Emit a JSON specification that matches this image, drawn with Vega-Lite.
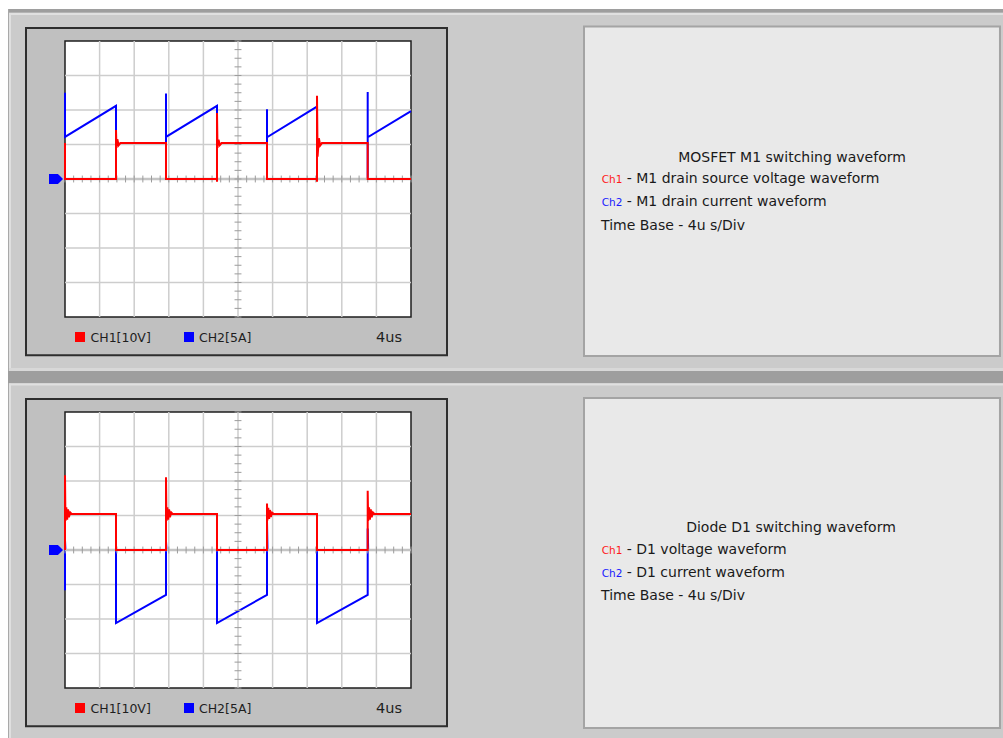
{
  "$schema": "https://vega.github.io/schema/vega-lite/v6.json",
  "description": "Simulated oscilloscope captures of a buck converter: MOSFET M1 and diode D1 switching waveforms (Ch1 voltage, Ch2 current, 4 us/div).",
  "background": "#ffffff",
  "padding": {"left": 7, "top": 9, "right": 0, "bottom": 0},
  "spacing": 0,
  "bounds": "flush",
  "config": {"view": {"stroke": null}, "font": "DejaVu Sans", "text": {"font": "DejaVu Sans"}},
  "datasets": {
    "m1": [
      {"ch": "CH1", "t": 0, "v": 1.04},
      {"ch": "CH1", "t": 0, "v": 0},
      {"ch": "CH1", "t": 5.896, "v": 0},
      {"ch": "CH1", "t": 5.896, "v": 1.42},
      {"ch": "CH1", "t": 5.95, "v": 0.9},
      {"ch": "CH1", "t": 6.05, "v": 1.15},
      {"ch": "CH1", "t": 6.2, "v": 0.98},
      {"ch": "CH1", "t": 6.4, "v": 1.04},
      {"ch": "CH1", "t": 11.676, "v": 1.04},
      {"ch": "CH1", "t": 11.676, "v": 0},
      {"ch": "CH1", "t": 17.572, "v": 0},
      {"ch": "CH1", "t": 17.572, "v": -0.08},
      {"ch": "CH1", "t": 17.572, "v": 1.91},
      {"ch": "CH1", "t": 17.63, "v": 0.9},
      {"ch": "CH1", "t": 17.75, "v": 1.14},
      {"ch": "CH1", "t": 17.9, "v": 0.98},
      {"ch": "CH1", "t": 18.1, "v": 1.04},
      {"ch": "CH1", "t": 23.353, "v": 1.04},
      {"ch": "CH1", "t": 23.353, "v": 0},
      {"ch": "CH1", "t": 29.133, "v": 0},
      {"ch": "CH1", "t": 29.133, "v": -0.08},
      {"ch": "CH1", "t": 29.133, "v": 2.41},
      {"ch": "CH1", "t": 29.2, "v": 0.65},
      {"ch": "CH1", "t": 29.35, "v": 1.18},
      {"ch": "CH1", "t": 29.5, "v": 0.97},
      {"ch": "CH1", "t": 29.7, "v": 1.04},
      {"ch": "CH1", "t": 34.994, "v": 1.04},
      {"ch": "CH1", "t": 34.994, "v": 0},
      {"ch": "CH1", "t": 40, "v": 0},
      {"ch": "CH2", "t": 0, "v": 2.5},
      {"ch": "CH2", "t": 0, "v": 1.22},
      {"ch": "CH2", "t": 5.896, "v": 2.12},
      {"ch": "CH2", "t": 5.896, "v": 0},
      {"ch": "CH2", "t": 11.676, "v": 0},
      {"ch": "CH2", "t": 11.676, "v": 2.48},
      {"ch": "CH2", "t": 11.676, "v": 1.22},
      {"ch": "CH2", "t": 17.572, "v": 2.12},
      {"ch": "CH2", "t": 17.572, "v": 0},
      {"ch": "CH2", "t": 23.353, "v": 0},
      {"ch": "CH2", "t": 23.353, "v": 2.02},
      {"ch": "CH2", "t": 23.353, "v": 1.21},
      {"ch": "CH2", "t": 29.133, "v": 2.1},
      {"ch": "CH2", "t": 29.133, "v": 0},
      {"ch": "CH2", "t": 34.994, "v": 0},
      {"ch": "CH2", "t": 34.994, "v": 2.52},
      {"ch": "CH2", "t": 34.994, "v": 1.21},
      {"ch": "CH2", "t": 40, "v": 1.97}
    ],
    "d1": [
      {"ch": "CH1", "t": 0, "v": 0},
      {"ch": "CH1", "t": 0, "v": 2.17},
      {"ch": "CH1", "t": 0.05, "v": 0.84},
      {"ch": "CH1", "t": 0.15, "v": 1.24},
      {"ch": "CH1", "t": 0.25, "v": 0.88},
      {"ch": "CH1", "t": 0.35, "v": 1.18},
      {"ch": "CH1", "t": 0.45, "v": 0.95},
      {"ch": "CH1", "t": 0.6, "v": 1.09},
      {"ch": "CH1", "t": 0.8, "v": 1.04},
      {"ch": "CH1", "t": 5.896, "v": 1.04},
      {"ch": "CH1", "t": 5.896, "v": 0},
      {"ch": "CH1", "t": 11.676, "v": 0},
      {"ch": "CH1", "t": 11.676, "v": 2.11},
      {"ch": "CH1", "t": 11.73, "v": 0.84},
      {"ch": "CH1", "t": 11.83, "v": 1.24},
      {"ch": "CH1", "t": 11.93, "v": 0.88},
      {"ch": "CH1", "t": 12.03, "v": 1.18},
      {"ch": "CH1", "t": 12.13, "v": 0.95},
      {"ch": "CH1", "t": 12.28, "v": 1.09},
      {"ch": "CH1", "t": 12.48, "v": 1.04},
      {"ch": "CH1", "t": 17.572, "v": 1.04},
      {"ch": "CH1", "t": 17.572, "v": 0},
      {"ch": "CH1", "t": 23.353, "v": 0},
      {"ch": "CH1", "t": 23.353, "v": 1.35},
      {"ch": "CH1", "t": 23.4, "v": 0.86},
      {"ch": "CH1", "t": 23.5, "v": 1.22},
      {"ch": "CH1", "t": 23.6, "v": 0.9},
      {"ch": "CH1", "t": 23.7, "v": 1.16},
      {"ch": "CH1", "t": 23.8, "v": 0.96},
      {"ch": "CH1", "t": 23.95, "v": 1.08},
      {"ch": "CH1", "t": 24.15, "v": 1.04},
      {"ch": "CH1", "t": 29.133, "v": 1.04},
      {"ch": "CH1", "t": 29.133, "v": 0},
      {"ch": "CH1", "t": 34.994, "v": 0},
      {"ch": "CH1", "t": 34.994, "v": 1.72},
      {"ch": "CH1", "t": 35.05, "v": 0.84},
      {"ch": "CH1", "t": 35.15, "v": 1.24},
      {"ch": "CH1", "t": 35.25, "v": 0.88},
      {"ch": "CH1", "t": 35.35, "v": 1.18},
      {"ch": "CH1", "t": 35.45, "v": 0.95},
      {"ch": "CH1", "t": 35.6, "v": 1.09},
      {"ch": "CH1", "t": 35.8, "v": 1.04},
      {"ch": "CH1", "t": 40, "v": 1.04},
      {"ch": "CH2", "t": 0, "v": -1.17},
      {"ch": "CH2", "t": 0, "v": 0.29},
      {"ch": "CH2", "t": 0.05, "v": 0},
      {"ch": "CH2", "t": 5.896, "v": 0},
      {"ch": "CH2", "t": 5.896, "v": -2.12},
      {"ch": "CH2", "t": 11.676, "v": -1.3},
      {"ch": "CH2", "t": 11.676, "v": 0.25},
      {"ch": "CH2", "t": 11.73, "v": 0},
      {"ch": "CH2", "t": 17.572, "v": 0},
      {"ch": "CH2", "t": 17.572, "v": -2.12},
      {"ch": "CH2", "t": 23.353, "v": -1.3},
      {"ch": "CH2", "t": 23.353, "v": 0.82},
      {"ch": "CH2", "t": 23.41, "v": 0},
      {"ch": "CH2", "t": 29.133, "v": 0},
      {"ch": "CH2", "t": 29.133, "v": -2.12},
      {"ch": "CH2", "t": 34.994, "v": -1.3},
      {"ch": "CH2", "t": 34.994, "v": 0.62},
      {"ch": "CH2", "t": 35.05, "v": 0},
      {"ch": "CH2", "t": 40, "v": 0}
    ],
    "vgrid": [{"t": 4}, {"t": 8}, {"t": 12}, {"t": 16}, {"t": 20}, {"t": 24}, {"t": 28}, {"t": 32}, {"t": 36}],
    "hgrid": [{"v": -3}, {"v": -2}, {"v": -1}, {"v": 0}, {"v": 1}, {"v": 2}, {"v": 3}],
    "tticks": [
      {"t": 0}, {"t": 1}, {"t": 2}, {"t": 3}, {"t": 4}, {"t": 5}, {"t": 6}, {"t": 7}, {"t": 8}, {"t": 9},
      {"t": 10}, {"t": 11}, {"t": 12}, {"t": 13}, {"t": 14}, {"t": 15}, {"t": 16}, {"t": 17}, {"t": 18}, {"t": 19},
      {"t": 20}, {"t": 21}, {"t": 22}, {"t": 23}, {"t": 24}, {"t": 25}, {"t": 26}, {"t": 27}, {"t": 28}, {"t": 29},
      {"t": 30}, {"t": 31}, {"t": 32}, {"t": 33}, {"t": 34}, {"t": 35}, {"t": 36}, {"t": 37}, {"t": 38}, {"t": 39}, {"t": 40}
    ],
    "vticks": [
      {"v": -4}, {"v": -3.75}, {"v": -3.5}, {"v": -3.25}, {"v": -3}, {"v": -2.75}, {"v": -2.5}, {"v": -2.25},
      {"v": -2}, {"v": -1.75}, {"v": -1.5}, {"v": -1.25}, {"v": -1}, {"v": -0.75}, {"v": -0.5}, {"v": -0.25},
      {"v": 0}, {"v": 0.25}, {"v": 0.5}, {"v": 0.75}, {"v": 1}, {"v": 1.25}, {"v": 1.5}, {"v": 1.75},
      {"v": 2}, {"v": 2.25}, {"v": 2.5}, {"v": 2.75}, {"v": 3}, {"v": 3.25}, {"v": 3.5}, {"v": 3.75}, {"v": 4}
    ]
  },
  "vconcat": [
    {
      "width": 996,
      "height": 362,
      "view": {"fill": "#cbcbcb", "stroke": null},
      "layer": [
        {"data": {"values": [{}]}, "mark": {"type": "rect", "color": "#9e9e9e"},
         "encoding": {"x": {"datum": -6.5896, "type": "quantitative", "scale": {"domain": [-6.5896, 108.5549], "nice": false, "zero": false}, "axis": null}, "x2": {"datum": 108.5549},
                      "y": {"datum": 4.9275, "type": "quantitative", "scale": {"domain": [-5.5652, 4.9275], "nice": false, "zero": false}, "axis": null}, "y2": {"datum": 4.826}}},
        {"data": {"values": [{}]}, "mark": {"type": "rect", "color": "#a8a8a8"},
         "encoding": {"x": {"datum": -6.5896, "type": "quantitative", "scale": {"domain": [-6.5896, 108.5549], "nice": false, "zero": false}, "axis": null}, "x2": {"datum": -6.474},
                      "y": {"datum": 4.9275, "type": "quantitative", "scale": {"domain": [-5.5652, 4.9275], "nice": false, "zero": false}, "axis": null}, "y2": {"datum": -5.5652}}},
        {"data": {"values": [{}]}, "mark": {"type": "rule", "color": "#e0e0e0", "strokeWidth": 2},
         "encoding": {"x": {"datum": -6.474, "type": "quantitative", "scale": {"domain": [-6.5896, 108.5549], "nice": false, "zero": false}, "axis": null}, "x2": {"datum": 108.5549},
                      "y": {"datum": 4.7826, "type": "quantitative", "scale": {"domain": [-5.5652, 4.9275], "nice": false, "zero": false}, "axis": null}}},
        {"data": {"values": [{}]}, "mark": {"type": "rule", "color": "#e0e0e0", "strokeWidth": 2},
         "encoding": {"x": {"datum": -6.36, "type": "quantitative", "scale": {"domain": [-6.5896, 108.5549], "nice": false, "zero": false}, "axis": null},
                      "y": {"datum": 4.81, "type": "quantitative", "scale": {"domain": [-5.5652, 4.9275], "nice": false, "zero": false}, "axis": null}, "y2": {"datum": -5.5652}}},
        {"data": {"values": [{}]}, "mark": {"type": "rule", "color": "#d8d8d8", "strokeWidth": 3},
         "encoding": {"x": {"datum": -6.474, "type": "quantitative", "scale": {"domain": [-6.5896, 108.5549], "nice": false, "zero": false}, "axis": null}, "x2": {"datum": 108.5549},
                      "y": {"datum": -5.522, "type": "quantitative", "scale": {"domain": [-5.5652, 4.9275], "nice": false, "zero": false}, "axis": null}}},
        {"data": {"values": [{}]}, "mark": {"type": "rect", "fill": "#c0c0c0", "stroke": "#2e2e2e", "strokeWidth": 2},
         "encoding": {"x": {"datum": -4.509, "type": "quantitative", "scale": {"domain": [-6.5896, 108.5549], "nice": false, "zero": false}, "axis": null}, "x2": {"datum": 44.162},
                      "y": {"datum": -5.11, "type": "quantitative", "scale": {"domain": [-5.5652, 4.9275], "nice": false, "zero": false}, "axis": null}, "y2": {"datum": 4.377}}},
        {"data": {"values": [{}]}, "mark": {"type": "rect", "fill": "#ffffff", "stroke": "#1e1e1e", "strokeWidth": 1.5},
         "encoding": {"x": {"datum": 0, "type": "quantitative", "scale": {"domain": [-6.5896, 108.5549], "nice": false, "zero": false}, "axis": null}, "x2": {"datum": 40},
                      "y": {"datum": -4, "type": "quantitative", "scale": {"domain": [-5.5652, 4.9275], "nice": false, "zero": false}, "axis": null}, "y2": {"datum": 4}}},
        {"data": {"name": "vgrid"}, "mark": {"type": "rule", "color": "#cdcdcd", "strokeWidth": 1.5},
         "encoding": {"x": {"field": "t", "type": "quantitative", "scale": {"domain": [-6.5896, 108.5549], "nice": false, "zero": false}, "axis": null},
                      "y": {"datum": -4, "type": "quantitative", "scale": {"domain": [-5.5652, 4.9275], "nice": false, "zero": false}, "axis": null}, "y2": {"datum": 4}}},
        {"data": {"name": "hgrid"}, "mark": {"type": "rule", "color": "#cdcdcd", "strokeWidth": 1.5},
         "encoding": {"x": {"datum": 0, "type": "quantitative", "scale": {"domain": [-6.5896, 108.5549], "nice": false, "zero": false}, "axis": null}, "x2": {"datum": 40},
                      "y": {"field": "v", "type": "quantitative", "scale": {"domain": [-5.5652, 4.9275], "nice": false, "zero": false}, "axis": null}}},
        {"data": {"name": "m1"}, "transform": [{"filter": "datum.ch === 'CH2'"}],
         "mark": {"type": "line", "strokeWidth": 2, "interpolate": "linear"},
         "encoding": {"x": {"field": "t", "type": "quantitative", "scale": {"domain": [-6.5896, 108.5549], "nice": false, "zero": false}, "axis": null},
                      "y": {"field": "v", "type": "quantitative", "scale": {"domain": [-5.5652, 4.9275], "nice": false, "zero": false}, "axis": null},
                      "color": {"field": "ch", "type": "nominal", "scale": {"domain": ["CH1", "CH2"], "range": ["#ff0000", "#0000ff"]}, "legend": null},
                      "order": {"value": null}}},
        {"data": {"values": [{}]}, "mark": {"type": "rule", "color": "#c4c4c4", "strokeWidth": 2.5},
         "encoding": {"x": {"datum": 0, "type": "quantitative", "scale": {"domain": [-6.5896, 108.5549], "nice": false, "zero": false}, "axis": null}, "x2": {"datum": 40},
                      "y": {"datum": 0, "type": "quantitative", "scale": {"domain": [-5.5652, 4.9275], "nice": false, "zero": false}, "axis": null}}},
        {"data": {"name": "tticks"}, "mark": {"type": "rule", "color": "#9c9c9c", "strokeWidth": 1},
         "encoding": {"x": {"field": "t", "type": "quantitative", "scale": {"domain": [-6.5896, 108.5549], "nice": false, "zero": false}, "axis": null},
                      "y": {"datum": -0.1, "type": "quantitative", "scale": {"domain": [-5.5652, 4.9275], "nice": false, "zero": false}, "axis": null}, "y2": {"datum": 0.1}}},
        {"data": {"name": "vticks"}, "mark": {"type": "rule", "color": "#9c9c9c", "strokeWidth": 1},
         "encoding": {"x": {"datum": 19.6, "type": "quantitative", "scale": {"domain": [-6.5896, 108.5549], "nice": false, "zero": false}, "axis": null}, "x2": {"datum": 20.4},
                      "y": {"field": "v", "type": "quantitative", "scale": {"domain": [-5.5652, 4.9275], "nice": false, "zero": false}, "axis": null}}},
        {"data": {"name": "m1"}, "transform": [{"filter": "datum.ch === 'CH1'"}],
         "mark": {"type": "line", "strokeWidth": 2, "interpolate": "linear"},
         "encoding": {"x": {"field": "t", "type": "quantitative", "scale": {"domain": [-6.5896, 108.5549], "nice": false, "zero": false}, "axis": null},
                      "y": {"field": "v", "type": "quantitative", "scale": {"domain": [-5.5652, 4.9275], "nice": false, "zero": false}, "axis": null},
                      "color": {"field": "ch", "type": "nominal", "scale": {"domain": ["CH1", "CH2"], "range": ["#ff0000", "#0000ff"]}, "legend": null},
                      "order": {"value": null}}},
        {"data": {"values": [{}]}, "mark": {"type": "point", "shape": "M-1,-0.71L0.28,-0.71L1,0L0.28,0.71L-1,0.71Z", "size": 196, "filled": true, "color": "#0000ff", "opacity": 1},
         "encoding": {"x": {"datum": -1.04, "type": "quantitative", "scale": {"domain": [-6.5896, 108.5549], "nice": false, "zero": false}, "axis": null},
                      "y": {"datum": 0, "type": "quantitative", "scale": {"domain": [-5.5652, 4.9275], "nice": false, "zero": false}, "axis": null}}},
        {"data": {"values": [{}]}, "mark": {"type": "point", "shape": "square", "size": 100, "filled": true, "color": "#ff0000", "opacity": 1},
         "encoding": {"x": {"datum": 1.734, "type": "quantitative", "scale": {"domain": [-6.5896, 108.5549], "nice": false, "zero": false}, "axis": null},
                      "y": {"datum": -4.58, "type": "quantitative", "scale": {"domain": [-5.5652, 4.9275], "nice": false, "zero": false}, "axis": null}}},
        {"data": {"values": [{}]}, "mark": {"type": "point", "shape": "square", "size": 100, "filled": true, "color": "#0000ff", "opacity": 1},
         "encoding": {"x": {"datum": 14.335, "type": "quantitative", "scale": {"domain": [-6.5896, 108.5549], "nice": false, "zero": false}, "axis": null},
                      "y": {"datum": -4.58, "type": "quantitative", "scale": {"domain": [-5.5652, 4.9275], "nice": false, "zero": false}, "axis": null}}},
        {"data": {"values": [{}]}, "mark": {"type": "text", "text": "CH1[10V]", "align": "left", "baseline": "alphabetic", "fontSize": 12.5, "color": "#1e1e1e"},
         "encoding": {"x": {"datum": 2.948, "type": "quantitative", "scale": {"domain": [-6.5896, 108.5549], "nice": false, "zero": false}, "axis": null},
                      "y": {"datum": -4.73, "type": "quantitative", "scale": {"domain": [-5.5652, 4.9275], "nice": false, "zero": false}, "axis": null}}},
        {"data": {"values": [{}]}, "mark": {"type": "text", "text": "CH2[5A]", "align": "left", "baseline": "alphabetic", "fontSize": 12.5, "color": "#1e1e1e"},
         "encoding": {"x": {"datum": 15.49, "type": "quantitative", "scale": {"domain": [-6.5896, 108.5549], "nice": false, "zero": false}, "axis": null},
                      "y": {"datum": -4.73, "type": "quantitative", "scale": {"domain": [-5.5652, 4.9275], "nice": false, "zero": false}, "axis": null}}},
        {"data": {"values": [{}]}, "mark": {"type": "text", "text": "4us", "align": "right", "baseline": "alphabetic", "fontSize": 14.5, "color": "#1e1e1e"},
         "encoding": {"x": {"datum": 38.96, "type": "quantitative", "scale": {"domain": [-6.5896, 108.5549], "nice": false, "zero": false}, "axis": null},
                      "y": {"datum": -4.73, "type": "quantitative", "scale": {"domain": [-5.5652, 4.9275], "nice": false, "zero": false}, "axis": null}}},
        {"data": {"values": [{}]}, "mark": {"type": "rect", "fill": "#e9e9e9", "stroke": "#a4a4a4", "strokeWidth": 2},
         "encoding": {"x": {"datum": 60.0, "type": "quantitative", "scale": {"domain": [-6.5896, 108.5549], "nice": false, "zero": false}, "axis": null}, "x2": {"datum": 108.09},
                      "y": {"datum": -5.13, "type": "quantitative", "scale": {"domain": [-5.5652, 4.9275], "nice": false, "zero": false}, "axis": null}, "y2": {"datum": 4.42}}},
        {"data": {"values": [{}]}, "mark": {"type": "text", "text": "MOSFET M1 switching waveform", "align": "center", "baseline": "alphabetic", "fontSize": 14, "color": "#1a1a1a"},
         "encoding": {"x": {"datum": 84.05, "type": "quantitative", "scale": {"domain": [-6.5896, 108.5549], "nice": false, "zero": false}, "axis": null},
                      "y": {"datum": 0.5, "type": "quantitative", "scale": {"domain": [-5.5652, 4.9275], "nice": false, "zero": false}, "axis": null}}},
        {"data": {"values": [{}]}, "mark": {"type": "text", "text": "Ch1", "align": "left", "baseline": "alphabetic", "fontSize": 10.5, "color": "#ff1a1a"},
         "encoding": {"x": {"datum": 62.05, "type": "quantitative", "scale": {"domain": [-6.5896, 108.5549], "nice": false, "zero": false}, "axis": null},
                      "y": {"datum": -0.125, "type": "quantitative", "scale": {"domain": [-5.5652, 4.9275], "nice": false, "zero": false}, "axis": null}}},
        {"data": {"values": [{}]}, "mark": {"type": "text", "text": "- M1 drain source voltage waveform", "align": "left", "baseline": "alphabetic", "fontSize": 14, "color": "#1a1a1a"},
         "encoding": {"x": {"datum": 64.94, "type": "quantitative", "scale": {"domain": [-6.5896, 108.5549], "nice": false, "zero": false}, "axis": null},
                      "y": {"datum": -0.125, "type": "quantitative", "scale": {"domain": [-5.5652, 4.9275], "nice": false, "zero": false}, "axis": null}}},
        {"data": {"values": [{}]}, "mark": {"type": "text", "text": "Ch2", "align": "left", "baseline": "alphabetic", "fontSize": 10.5, "color": "#1a1aff"},
         "encoding": {"x": {"datum": 62.05, "type": "quantitative", "scale": {"domain": [-6.5896, 108.5549], "nice": false, "zero": false}, "axis": null},
                      "y": {"datum": -0.783, "type": "quantitative", "scale": {"domain": [-5.5652, 4.9275], "nice": false, "zero": false}, "axis": null}}},
        {"data": {"values": [{}]}, "mark": {"type": "text", "text": "- M1 drain current waveform", "align": "left", "baseline": "alphabetic", "fontSize": 14, "color": "#1a1a1a"},
         "encoding": {"x": {"datum": 64.94, "type": "quantitative", "scale": {"domain": [-6.5896, 108.5549], "nice": false, "zero": false}, "axis": null},
                      "y": {"datum": -0.783, "type": "quantitative", "scale": {"domain": [-5.5652, 4.9275], "nice": false, "zero": false}, "axis": null}}},
        {"data": {"values": [{}]}, "mark": {"type": "text", "text": "Time Base - 4u s/Div", "align": "left", "baseline": "alphabetic", "fontSize": 14, "color": "#1a1a1a"},
         "encoding": {"x": {"datum": 61.97, "type": "quantitative", "scale": {"domain": [-6.5896, 108.5549], "nice": false, "zero": false}, "axis": null},
                      "y": {"datum": -1.47, "type": "quantitative", "scale": {"domain": [-5.5652, 4.9275], "nice": false, "zero": false}, "axis": null}}}
      ]
    },
    {
      "width": 996,
      "height": 367,
      "view": {"fill": "#cbcbcb", "stroke": null},
      "layer": [
        {"data": {"values": [{}]}, "mark": {"type": "rect", "color": "#9e9e9e"},
         "encoding": {"x": {"datum": -6.5896, "type": "quantitative", "scale": {"domain": [-6.5896, 108.5549], "nice": false, "zero": false}, "axis": null}, "x2": {"datum": 108.5549},
                      "y": {"datum": 5.1884, "type": "quantitative", "scale": {"domain": [-5.4493, 5.1884], "nice": false, "zero": false}, "axis": null}, "y2": {"datum": 4.8406}}},
        {"data": {"values": [{}]}, "mark": {"type": "rect", "color": "#a8a8a8"},
         "encoding": {"x": {"datum": -6.5896, "type": "quantitative", "scale": {"domain": [-6.5896, 108.5549], "nice": false, "zero": false}, "axis": null}, "x2": {"datum": -6.474},
                      "y": {"datum": 4.8406, "type": "quantitative", "scale": {"domain": [-5.4493, 5.1884], "nice": false, "zero": false}, "axis": null}, "y2": {"datum": -5.4493}}},
        {"data": {"values": [{}]}, "mark": {"type": "rule", "color": "#e0e0e0", "strokeWidth": 2},
         "encoding": {"x": {"datum": -6.474, "type": "quantitative", "scale": {"domain": [-6.5896, 108.5549], "nice": false, "zero": false}, "axis": null}, "x2": {"datum": 108.5549},
                      "y": {"datum": 4.797, "type": "quantitative", "scale": {"domain": [-5.4493, 5.1884], "nice": false, "zero": false}, "axis": null}}},
        {"data": {"values": [{}]}, "mark": {"type": "rule", "color": "#e0e0e0", "strokeWidth": 2},
         "encoding": {"x": {"datum": -6.36, "type": "quantitative", "scale": {"domain": [-6.5896, 108.5549], "nice": false, "zero": false}, "axis": null},
                      "y": {"datum": 4.82, "type": "quantitative", "scale": {"domain": [-5.4493, 5.1884], "nice": false, "zero": false}, "axis": null}, "y2": {"datum": -5.4493}}},
        {"data": {"values": [{}]}, "mark": {"type": "rect", "fill": "#c0c0c0", "stroke": "#2e2e2e", "strokeWidth": 2},
         "encoding": {"x": {"datum": -4.509, "type": "quantitative", "scale": {"domain": [-6.5896, 108.5549], "nice": false, "zero": false}, "axis": null}, "x2": {"datum": 44.162},
                      "y": {"datum": -5.11, "type": "quantitative", "scale": {"domain": [-5.4493, 5.1884], "nice": false, "zero": false}, "axis": null}, "y2": {"datum": 4.377}}},
        {"data": {"values": [{}]}, "mark": {"type": "rect", "fill": "#ffffff", "stroke": "#1e1e1e", "strokeWidth": 1.5},
         "encoding": {"x": {"datum": 0, "type": "quantitative", "scale": {"domain": [-6.5896, 108.5549], "nice": false, "zero": false}, "axis": null}, "x2": {"datum": 40},
                      "y": {"datum": -4, "type": "quantitative", "scale": {"domain": [-5.4493, 5.1884], "nice": false, "zero": false}, "axis": null}, "y2": {"datum": 4}}},
        {"data": {"name": "vgrid"}, "mark": {"type": "rule", "color": "#cdcdcd", "strokeWidth": 1.5},
         "encoding": {"x": {"field": "t", "type": "quantitative", "scale": {"domain": [-6.5896, 108.5549], "nice": false, "zero": false}, "axis": null},
                      "y": {"datum": -4, "type": "quantitative", "scale": {"domain": [-5.4493, 5.1884], "nice": false, "zero": false}, "axis": null}, "y2": {"datum": 4}}},
        {"data": {"name": "hgrid"}, "mark": {"type": "rule", "color": "#cdcdcd", "strokeWidth": 1.5},
         "encoding": {"x": {"datum": 0, "type": "quantitative", "scale": {"domain": [-6.5896, 108.5549], "nice": false, "zero": false}, "axis": null}, "x2": {"datum": 40},
                      "y": {"field": "v", "type": "quantitative", "scale": {"domain": [-5.4493, 5.1884], "nice": false, "zero": false}, "axis": null}}},
        {"data": {"name": "d1"}, "transform": [{"filter": "datum.ch === 'CH2'"}],
         "mark": {"type": "line", "strokeWidth": 2, "interpolate": "linear"},
         "encoding": {"x": {"field": "t", "type": "quantitative", "scale": {"domain": [-6.5896, 108.5549], "nice": false, "zero": false}, "axis": null},
                      "y": {"field": "v", "type": "quantitative", "scale": {"domain": [-5.4493, 5.1884], "nice": false, "zero": false}, "axis": null},
                      "color": {"field": "ch", "type": "nominal", "scale": {"domain": ["CH1", "CH2"], "range": ["#ff0000", "#0000ff"]}, "legend": null},
                      "order": {"value": null}}},
        {"data": {"values": [{}]}, "mark": {"type": "rule", "color": "#c4c4c4", "strokeWidth": 2.5},
         "encoding": {"x": {"datum": 0, "type": "quantitative", "scale": {"domain": [-6.5896, 108.5549], "nice": false, "zero": false}, "axis": null}, "x2": {"datum": 40},
                      "y": {"datum": 0, "type": "quantitative", "scale": {"domain": [-5.4493, 5.1884], "nice": false, "zero": false}, "axis": null}}},
        {"data": {"name": "tticks"}, "mark": {"type": "rule", "color": "#9c9c9c", "strokeWidth": 1},
         "encoding": {"x": {"field": "t", "type": "quantitative", "scale": {"domain": [-6.5896, 108.5549], "nice": false, "zero": false}, "axis": null},
                      "y": {"datum": -0.1, "type": "quantitative", "scale": {"domain": [-5.4493, 5.1884], "nice": false, "zero": false}, "axis": null}, "y2": {"datum": 0.1}}},
        {"data": {"name": "vticks"}, "mark": {"type": "rule", "color": "#9c9c9c", "strokeWidth": 1},
         "encoding": {"x": {"datum": 19.6, "type": "quantitative", "scale": {"domain": [-6.5896, 108.5549], "nice": false, "zero": false}, "axis": null}, "x2": {"datum": 20.4},
                      "y": {"field": "v", "type": "quantitative", "scale": {"domain": [-5.4493, 5.1884], "nice": false, "zero": false}, "axis": null}}},
        {"data": {"name": "d1"}, "transform": [{"filter": "datum.ch === 'CH1'"}],
         "mark": {"type": "line", "strokeWidth": 2, "interpolate": "linear"},
         "encoding": {"x": {"field": "t", "type": "quantitative", "scale": {"domain": [-6.5896, 108.5549], "nice": false, "zero": false}, "axis": null},
                      "y": {"field": "v", "type": "quantitative", "scale": {"domain": [-5.4493, 5.1884], "nice": false, "zero": false}, "axis": null},
                      "color": {"field": "ch", "type": "nominal", "scale": {"domain": ["CH1", "CH2"], "range": ["#ff0000", "#0000ff"]}, "legend": null},
                      "order": {"value": null}}},
        {"data": {"values": [{}]}, "mark": {"type": "point", "shape": "M-1,-0.71L0.28,-0.71L1,0L0.28,0.71L-1,0.71Z", "size": 196, "filled": true, "color": "#0000ff", "opacity": 1},
         "encoding": {"x": {"datum": -1.04, "type": "quantitative", "scale": {"domain": [-6.5896, 108.5549], "nice": false, "zero": false}, "axis": null},
                      "y": {"datum": 0, "type": "quantitative", "scale": {"domain": [-5.4493, 5.1884], "nice": false, "zero": false}, "axis": null}}},
        {"data": {"values": [{}]}, "mark": {"type": "point", "shape": "square", "size": 100, "filled": true, "color": "#ff0000", "opacity": 1},
         "encoding": {"x": {"datum": 1.734, "type": "quantitative", "scale": {"domain": [-6.5896, 108.5549], "nice": false, "zero": false}, "axis": null},
                      "y": {"datum": -4.58, "type": "quantitative", "scale": {"domain": [-5.4493, 5.1884], "nice": false, "zero": false}, "axis": null}}},
        {"data": {"values": [{}]}, "mark": {"type": "point", "shape": "square", "size": 100, "filled": true, "color": "#0000ff", "opacity": 1},
         "encoding": {"x": {"datum": 14.335, "type": "quantitative", "scale": {"domain": [-6.5896, 108.5549], "nice": false, "zero": false}, "axis": null},
                      "y": {"datum": -4.58, "type": "quantitative", "scale": {"domain": [-5.4493, 5.1884], "nice": false, "zero": false}, "axis": null}}},
        {"data": {"values": [{}]}, "mark": {"type": "text", "text": "CH1[10V]", "align": "left", "baseline": "alphabetic", "fontSize": 12.5, "color": "#1e1e1e"},
         "encoding": {"x": {"datum": 2.948, "type": "quantitative", "scale": {"domain": [-6.5896, 108.5549], "nice": false, "zero": false}, "axis": null},
                      "y": {"datum": -4.73, "type": "quantitative", "scale": {"domain": [-5.4493, 5.1884], "nice": false, "zero": false}, "axis": null}}},
        {"data": {"values": [{}]}, "mark": {"type": "text", "text": "CH2[5A]", "align": "left", "baseline": "alphabetic", "fontSize": 12.5, "color": "#1e1e1e"},
         "encoding": {"x": {"datum": 15.49, "type": "quantitative", "scale": {"domain": [-6.5896, 108.5549], "nice": false, "zero": false}, "axis": null},
                      "y": {"datum": -4.73, "type": "quantitative", "scale": {"domain": [-5.4493, 5.1884], "nice": false, "zero": false}, "axis": null}}},
        {"data": {"values": [{}]}, "mark": {"type": "text", "text": "4us", "align": "right", "baseline": "alphabetic", "fontSize": 14.5, "color": "#1e1e1e"},
         "encoding": {"x": {"datum": 38.96, "type": "quantitative", "scale": {"domain": [-6.5896, 108.5549], "nice": false, "zero": false}, "axis": null},
                      "y": {"datum": -4.73, "type": "quantitative", "scale": {"domain": [-5.4493, 5.1884], "nice": false, "zero": false}, "axis": null}}},
        {"data": {"values": [{}]}, "mark": {"type": "rect", "fill": "#e9e9e9", "stroke": "#a4a4a4", "strokeWidth": 2},
         "encoding": {"x": {"datum": 60.0, "type": "quantitative", "scale": {"domain": [-6.5896, 108.5549], "nice": false, "zero": false}, "axis": null}, "x2": {"datum": 108.09},
                      "y": {"datum": -5.159, "type": "quantitative", "scale": {"domain": [-5.4493, 5.1884], "nice": false, "zero": false}, "axis": null}, "y2": {"datum": 4.406}}},
        {"data": {"values": [{}]}, "mark": {"type": "text", "text": "Diode D1 switching waveform", "align": "center", "baseline": "alphabetic", "fontSize": 14, "color": "#1a1a1a"},
         "encoding": {"x": {"datum": 83.93, "type": "quantitative", "scale": {"domain": [-6.5896, 108.5549], "nice": false, "zero": false}, "axis": null},
                      "y": {"datum": 0.51, "type": "quantitative", "scale": {"domain": [-5.4493, 5.1884], "nice": false, "zero": false}, "axis": null}}},
        {"data": {"values": [{}]}, "mark": {"type": "text", "text": "Ch1", "align": "left", "baseline": "alphabetic", "fontSize": 10.5, "color": "#ff1a1a"},
         "encoding": {"x": {"datum": 62.05, "type": "quantitative", "scale": {"domain": [-6.5896, 108.5549], "nice": false, "zero": false}, "axis": null},
                      "y": {"datum": -0.125, "type": "quantitative", "scale": {"domain": [-5.4493, 5.1884], "nice": false, "zero": false}, "axis": null}}},
        {"data": {"values": [{}]}, "mark": {"type": "text", "text": "- D1 voltage waveform", "align": "left", "baseline": "alphabetic", "fontSize": 14, "color": "#1a1a1a"},
         "encoding": {"x": {"datum": 64.94, "type": "quantitative", "scale": {"domain": [-6.5896, 108.5549], "nice": false, "zero": false}, "axis": null},
                      "y": {"datum": -0.125, "type": "quantitative", "scale": {"domain": [-5.4493, 5.1884], "nice": false, "zero": false}, "axis": null}}},
        {"data": {"values": [{}]}, "mark": {"type": "text", "text": "Ch2", "align": "left", "baseline": "alphabetic", "fontSize": 10.5, "color": "#1a1aff"},
         "encoding": {"x": {"datum": 62.05, "type": "quantitative", "scale": {"domain": [-6.5896, 108.5549], "nice": false, "zero": false}, "axis": null},
                      "y": {"datum": -0.783, "type": "quantitative", "scale": {"domain": [-5.4493, 5.1884], "nice": false, "zero": false}, "axis": null}}},
        {"data": {"values": [{}]}, "mark": {"type": "text", "text": "- D1 current waveform", "align": "left", "baseline": "alphabetic", "fontSize": 14, "color": "#1a1a1a"},
         "encoding": {"x": {"datum": 64.94, "type": "quantitative", "scale": {"domain": [-6.5896, 108.5549], "nice": false, "zero": false}, "axis": null},
                      "y": {"datum": -0.783, "type": "quantitative", "scale": {"domain": [-5.4493, 5.1884], "nice": false, "zero": false}, "axis": null}}},
        {"data": {"values": [{}]}, "mark": {"type": "text", "text": "Time Base - 4u s/Div", "align": "left", "baseline": "alphabetic", "fontSize": 14, "color": "#1a1a1a"},
         "encoding": {"x": {"datum": 61.97, "type": "quantitative", "scale": {"domain": [-6.5896, 108.5549], "nice": false, "zero": false}, "axis": null},
                      "y": {"datum": -1.46, "type": "quantitative", "scale": {"domain": [-5.4493, 5.1884], "nice": false, "zero": false}, "axis": null}}}
      ]
    }
  ]
}
